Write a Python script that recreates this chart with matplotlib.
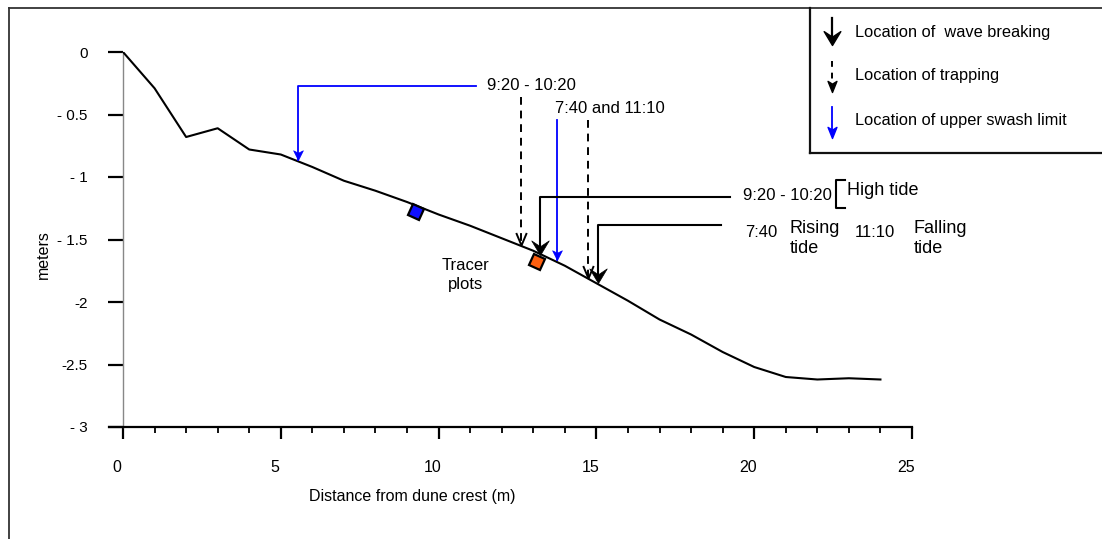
import matplotlib
matplotlib.use("Agg")
import matplotlib.pyplot as plt
from matplotlib.path import Path
from matplotlib.markers import MarkerStyle
from matplotlib.transforms import Affine2D, ScaledTranslation
from matplotlib.lines import Line2D

plt.rcParams['font.family'] = ['Liberation Sans', 'DejaVu Sans']

# ---------------- data ----------------
dist = [0, 1, 2, 3, 4, 5, 6, 7, 8, 9, 10, 11, 12, 13, 14, 15, 16, 17, 18, 19, 20, 21, 22, 23, 24]
elev = [0, -0.29, -0.68, -0.61, -0.78, -0.82, -0.92, -1.03, -1.11, -1.20, -1.30, -1.39,
        -1.49, -1.59, -1.71, -1.85, -1.99, -2.14, -2.26, -2.40, -2.52, -2.60, -2.62, -2.61, -2.62]

xticks = [0, 5, 10, 15, 20, 25]
yticks = [-3, -2.5, -2, -1.5, -1, -0.5, 0]
ytick_labels = ['- 3', '-2.5', '-2', '- 1.5', '- 1', '- 0.5', '0']

# upper swash limit arrows (blue)
swash_x = [5.55, 13.75]
swash_top = [-0.27, -0.54]
swash_tip = [-0.86, -1.66]
swash_hline_end = 11.2      # horizontal leader of the 9:20-10:20 swash arrow

# trapping arrows (dashed)
trap_x = [12.6, 14.73]
trap_top = [-0.36, -0.54]
trap_tip = [-1.54, -1.81]

# wave-breaking arrows (thick black)
break_x = [13.2, 15.05]
break_top = [-1.16, -1.38]
break_tip = [-1.62, -1.85]
break_hline_end = [19.23, 18.95]

# tracer plots
tracer_x = [9.28, 13.12]
tracer_y = [-1.28, -1.68]
tracer_colors = ['#1010ff', '#ff6010']

# ---------------- figure ----------------
W, H = 1102, 539
fig = plt.figure(figsize=(W / 100, H / 100), dpi=100)
ax = fig.add_axes([123 / W, 1 - 427 / H, (912 - 123) / W, (427 - 52) / H])
ax.set_xlim(0, 25)
ax.set_ylim(-3, 0)

def px(x):
    return x / W

def py(y):
    return 1 - y / H

# outer frame and legend box (figure pixels)
frame_kw = dict(transform=fig.transFigure, color='#333333', lw=1.3, clip_on=False)
fig.add_artist(Line2D([px(9), px(9)], [py(8), -0.05], **frame_kw))
fig.add_artist(Line2D([px(9), 1.05], [py(8), py(8)], **frame_kw))
box_kw = dict(transform=fig.transFigure, color='#111111', lw=1.6, clip_on=False)
fig.add_artist(Line2D([px(810), px(810)], [py(8), py(153)], **box_kw))
fig.add_artist(Line2D([px(810), 1.05], [py(153), py(153)], **box_kw))

# spines / ticks
for s in ['top', 'right']:
    ax.spines[s].set_visible(False)
ax.spines['left'].set_color('#888888')
ax.spines['left'].set_linewidth(1.0)
ax.spines['bottom'].set_color('black')
ax.spines['bottom'].set_linewidth(1.6)
ax.spines['bottom'].set_bounds(-14 / 31.56, 25)

ax.set_xticks(xticks)
ax.set_xticks(range(0, 26), minor=True)
ax.set_yticks(yticks)
ax.set_yticklabels(ytick_labels)
ax.tick_params(axis='y', direction='out', length=10.5, width=1.6, pad=15,
               labelsize=11, color='black')
ax.tick_params(axis='x', which='major', direction='out', length=8.5, width=1.6,
               pad=15, labelsize=11.5)
ax.tick_params(axis='x', which='minor', direction='out', length=4.5, width=1.3)
shift = ScaledTranslation(-6 / 100, 0, fig.dpi_scale_trans)
for lab in ax.get_xticklabels():
    lab.set_transform(lab.get_transform() + shift)
ax.set_xlabel('Distance from dune crest (m)', fontsize=11.5, ha='center', va='center')
ax.xaxis.set_label_coords(0.366, -0.184)
ax.set_ylabel('meters', fontsize=11.5, ha='center', va='center')
ax.yaxis.set_label_coords(-0.101, 0.459)

# profile
ax.plot(dist, elev, color='black', lw=1.5, zorder=3)

# arrow head markers
stealth = Path([(0, 0), (-0.6, 1.0), (0, 0.6), (0.6, 1.0), (0, 0)],
               [Path.MOVETO, Path.LINETO, Path.LINETO, Path.LINETO, Path.CLOSEPOLY])
vhead = Path([(-0.42, 1.0), (0, 0), (0.42, 1.0)],
             [Path.MOVETO, Path.LINETO, Path.LINETO])
blue_head = Path([(0, 0), (-0.5, 1.0), (0, 0.75), (0.5, 1.0), (0, 0)],
                 [Path.MOVETO, Path.LINETO, Path.LINETO, Path.LINETO, Path.CLOSEPOLY])
leg_head = Path([(0, 0), (-0.4, 1.0), (0, 0.75), (0.4, 1.0), (0, 0)],
                [Path.MOVETO, Path.LINETO, Path.LINETO, Path.LINETO, Path.CLOSEPOLY])

kw = dict(clip_on=False, zorder=5)

# blue swash arrows
ax.plot([swash_x[0], swash_x[0], swash_hline_end],
        [swash_tip[0], swash_top[0], swash_top[0]], color='#0000ff', lw=1.3, **kw)
ax.plot([swash_x[1], swash_x[1]], [swash_top[1], swash_tip[1]], color='#0000ff', lw=1.3, **kw)
ax.plot(swash_x, swash_tip, ls='none', marker=blue_head, ms=14, color='#0000ff',
        mec='#0000ff', mew=0.5, **kw)

# trapping arrows
for xv, t0, t1 in zip(trap_x, trap_top, trap_tip):
    ax.plot([xv, xv], [t0, t1 + 0.02], color='black', lw=1.4, dashes=(4, 3), **kw)
ax.plot(trap_x, trap_tip, ls='none', marker=vhead, ms=18, mfc='none', mec='black',
        mew=1.4, **kw)

# wave breaking arrows
for xv, t0, t1, xe in zip(break_x, break_top, break_tip, break_hline_end):
    ax.plot([xe, xv, xv], [t0, t0, t1 + 0.05], color='black', lw=1.5, **kw)
ax.plot(break_x, break_tip, ls='none', marker=stealth, ms=21, color='black',
        mec='black', mew=0.5, **kw)

# tracer squares
for xv, yv, c in zip(tracer_x, tracer_y, tracer_colors):
    m = MarkerStyle('s', transform=Affine2D().rotate_deg(-24))
    ax.plot([xv], [yv], ls='none', marker=m, ms=8.5, mfc=c, mec='black', mew=1.6, zorder=6)

# text
tkw = dict(fontsize=12, va='center', ha='left', clip_on=False)
ax.text(11.53, -0.27, '9:20 - 10:20', **tkw)
ax.text(13.69, -0.45, '7:40 and 11:10', **tkw)
ax.text(19.65, -1.15, '9:20 - 10:20', **tkw)
ax.text(19.71, -1.445, '7:40', **tkw)
ax.text(23.2, -1.445, '11:10', **tkw)
ax.text(22.94, -1.105, 'High tide', fontsize=13, va='center', ha='left')
ax.text(21.13, -1.495, 'Rising\ntide', fontsize=13, va='center', ha='left', linespacing=1.22)
ax.text(25.04, -1.495, 'Falling\ntide', fontsize=13, va='center', ha='left', linespacing=1.22)
ax.text(10.84, -1.785, 'Tracer\nplots', fontsize=12, va='center', ha='center', linespacing=1.32)

# bracket for high tide
ax.plot([22.88, 22.59, 22.59, 22.88], [-1.024, -1.024, -1.248, -1.248], color='black',
        lw=1.5, **kw)

# legend arrows and labels
lx = 22.47
ax.plot([lx, lx], [0.27, 0.08], color='black', lw=1.6, **kw)
ax.plot([lx], [0.056], ls='none', marker=stealth, ms=20, color='black', **kw)
ax.plot([lx, lx], [-0.07, -0.30], color='black', lw=1.4, dashes=(3, 3), **kw)
ax.plot([lx], [-0.32], ls='none', marker=leg_head, ms=16, color='black', **kw)
ax.plot([lx, lx], [-0.44, -0.66], color='#0000ff', lw=1.3, **kw)
ax.plot([lx], [-0.69], ls='none', marker=leg_head, ms=16, color='#0000ff', **kw)

lkw = dict(fontsize=11.8, va='center', ha='left')
ax.text(23.19, 0.16, 'Location of  wave breaking', **lkw)
ax.text(23.19, -0.19, 'Location of trapping', **lkw)
ax.text(23.19, -0.55, 'Location of upper swash limit', **lkw)

fig.savefig('out.png', dpi=100)
